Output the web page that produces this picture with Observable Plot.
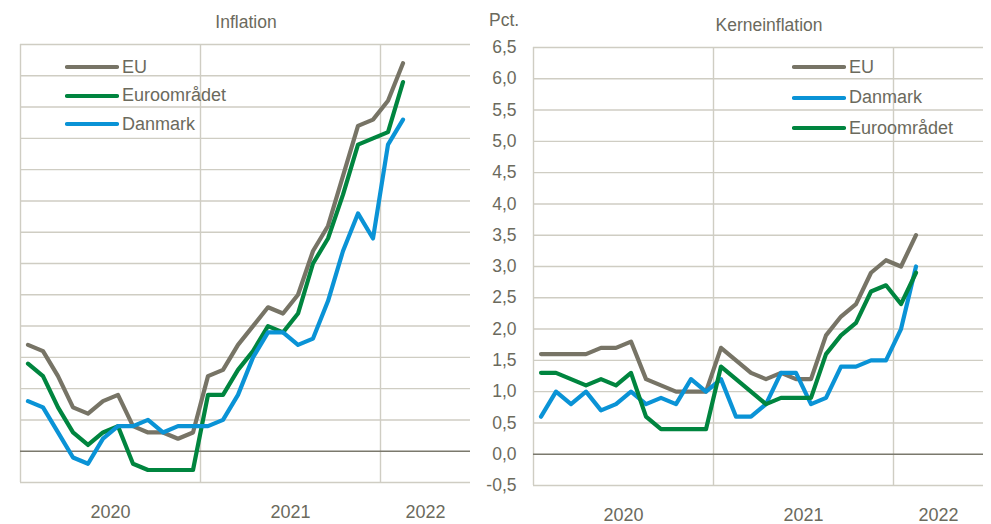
<!DOCTYPE html>
<html>
<head>
<meta charset="utf-8">
<script src="https://cdn.jsdelivr.net/npm/d3@7"></script>
<script src="https://cdn.jsdelivr.net/npm/@observablehq/plot@0.6"></script>
<style>
  html, body { margin: 0; padding: 0; background: #fff; }
  #root { position: relative; width: 991px; height: 524px; overflow: hidden;
    font-family: "Liberation Sans", Arial, sans-serif; color: #6b6a5d; }
  .abs { position: absolute; white-space: nowrap; }
  .title { font-size: 17.5px; transform: translate(-50%, -50%); }
  .leg { position: absolute; display: flex; flex-direction: column; }
  .leg-row { display: flex; align-items: center; font-size: 18px; }
  .leg-row svg { display: block; margin-right: 3px; }
</style>
</head>
<body>
<div id="root"></div>
<script>
// ---- Data ----
const months = ["2020-01","2020-02","2020-03","2020-04","2020-05","2020-06","2020-07","2020-08","2020-09","2020-10","2020-11","2020-12",
                "2021-01","2021-02","2021-03","2021-04","2021-05","2021-06","2021-07","2021-08","2021-09","2021-10","2021-11","2021-12",
                "2022-01","2022-02"];

// Inflation (pct. y/y)
const inflEU = [1.7,1.6,1.2,0.7,0.6,0.8,0.9,0.4,0.3,0.3,0.2,0.3, 1.2,1.3,1.7,2.0,2.3,2.2,2.5,3.2,3.6,4.4,5.2,5.3, 5.6,6.2];
const inflEA = [1.4,1.2,0.7,0.3,0.1,0.3,0.4,-0.2,-0.3,-0.3,-0.3,-0.3, 0.9,0.9,1.3,1.6,2.0,1.9,2.2,3.0,3.4,4.1,4.9,5.0, 5.1,5.9];
const inflDK = [0.8,0.7,0.3,-0.1,-0.2,0.2,0.4,0.4,0.5,0.3,0.4,0.4, 0.4,0.5,0.9,1.5,1.9,1.9,1.7,1.8,2.4,3.2,3.8,3.4, 4.9,5.3];

// Kerneinflation
const coreEU = [1.6,1.6,1.6,1.6,1.7,1.7,1.8,1.2,1.1,1.0,1.0,1.0, 1.7,1.5,1.3,1.2,1.3,1.2,1.2,1.9,2.2,2.4,2.9,3.1, 3.0,3.5];
const coreEA = [1.3,1.3,1.2,1.1,1.2,1.1,1.3,0.6,0.4,0.4,0.4,0.4, 1.4,1.2,1.0,0.8,0.9,0.9,0.9,1.6,1.9,2.1,2.6,2.7, 2.4,2.9];
const coreDK = [0.6,1.0,0.8,1.0,0.7,0.8,1.0,0.8,0.9,0.8,1.2,1.0, 1.2,0.6,0.6,0.8,1.3,1.3,0.8,0.9,1.4,1.4,1.5,1.5, 2.0,3.0];

const years = ["2020", "2021", "2022"];
const yTicks = [-0.5,0,0.5,1,1.5,2,2.5,3,3.5,4,4.5,5,5.5,6,6.5];
const axisEndMonth = "2022-06";

const titles = { left: "Inflation", right: "Kerneinflation", unit: "Pct." };
const seriesNames = { EU: "EU", EA: "Euroområdet", DK: "Danmark" };
const colors = { EU: "#777466", EA: "#00853f", DK: "#0a93d6" };

// ---- Helpers ----
const baseYear = +months[0].slice(0, 4);
const mIndex = s => (+s.slice(0, 4) - baseYear) * 12 + (+s.slice(5, 7) - 1);
const xMax = mIndex(axisEndMonth) + 1;
const yearStarts = years.map(y => mIndex(y + "-01"));
const yearLabels = years.map((y, i) => ({ label: y, x: (yearStarts[i] + Math.min(yearStarts[i] + 12, xMax)) / 2 }));
const toRows = (arr, key) => arr.map((v, i) => ({ series: key, x: mIndex(months[i]) + 0.5, v }));
const fmt = d => d3.format(".1f")(d).replace(".", ",").replace("−", "-");

const gridColor = "#cfcdc3";
const zeroColor = "#7b796d";
const textColor = "#6b6a5d";
const FONT = '"Liberation Sans", Arial, sans-serif';

function panel(opts, rows, order, showY) {
  return Plot.plot({
    width: opts.width, height: 524,
    marginLeft: opts.ml, marginRight: opts.mr, marginTop: opts.mt, marginBottom: 524 - opts.mb,
    style: { fontFamily: FONT, color: textColor, background: "transparent", overflow: "visible" },
    x: { domain: [0, xMax], axis: null },
    y: { domain: [-0.5, 6.5], axis: null },
    marks: [
      Plot.ruleY(yTicks.filter(d => d !== 0), { stroke: gridColor, strokeWidth: 1.4 }),
      Plot.ruleX(yearStarts, { stroke: gridColor, strokeWidth: 1.4 }),
      Plot.ruleY([0], { stroke: zeroColor, strokeWidth: 1.6 }),
      ...order.map(k => Plot.line(rows.filter(r => r.series === k), {
        x: "x", y: "v", stroke: colors[k], strokeWidth: 4.2, strokeLinejoin: "round", strokeLinecap: "round"
      })),
      Plot.text(yearLabels, { x: "x", text: "label", frameAnchor: "bottom", dy: 30, fontSize: 18, fill: textColor, lineAnchor: "middle" }),
      showY ? Plot.axisY(yTicks, { anchor: "left", label: null, tickSize: 0, tickPadding: 17, tickFormat: fmt, fontSize: 17.5, fill: textColor }) : null
    ]
  });
}

const root = document.getElementById("root");

const leftRows = [...toRows(inflEU, "EU"), ...toRows(inflEA, "EA"), ...toRows(inflDK, "DK")];
const rightRows = [...toRows(coreEU, "EU"), ...toRows(coreEA, "EA"), ...toRows(coreDK, "DK")];

const left = panel({ width: 480, ml: 20, mr: 10, mt: 44, mb: 482 }, leftRows, ["EU", "EA", "DK"], false);
left.style.position = "absolute"; left.style.left = "0px"; left.style.top = "0px";
root.appendChild(left);

const right = panel({ width: 511, ml: 53, mr: 8, mt: 47, mb: 485 }, rightRows, ["EU", "DK", "EA"], true);
right.style.position = "absolute"; right.style.left = "480px"; right.style.top = "0px";
root.appendChild(right);

function addText(text, x, y, cls) {
  const d = document.createElement("div");
  d.className = "abs " + cls;
  d.textContent = text;
  d.style.left = x + "px"; d.style.top = y + "px";
  root.appendChild(d);
  return d;
}
addText(titles.left, 246, 22, "title");
addText(titles.right, 769, 25, "title");
const u = addText(titles.unit, 489, 20, "title");
u.style.transform = "translate(0, -50%)";

function legend(keys, x, y, gap) {
  const box = document.createElement("div");
  box.className = "leg";
  box.style.left = x + "px"; box.style.top = y + "px";
  box.style.rowGap = gap + "px";
  keys.forEach(k => {
    const row = document.createElement("div");
    row.className = "leg-row";
    row.style.height = "22px";
    row.innerHTML = `<svg width="54" height="8"><line x1="2" y1="4" x2="52" y2="4" stroke="${colors[k]}" stroke-width="4.2" stroke-linecap="round"/></svg><span>${seriesNames[k]}</span>`;
    box.appendChild(row);
  });
  root.appendChild(box);
}
legend(["EU", "EA", "DK"], 65, 56, 6.5);
legend(["EU", "DK", "EA"], 792, 56, 8.5);
</script>
</body>
</html>
